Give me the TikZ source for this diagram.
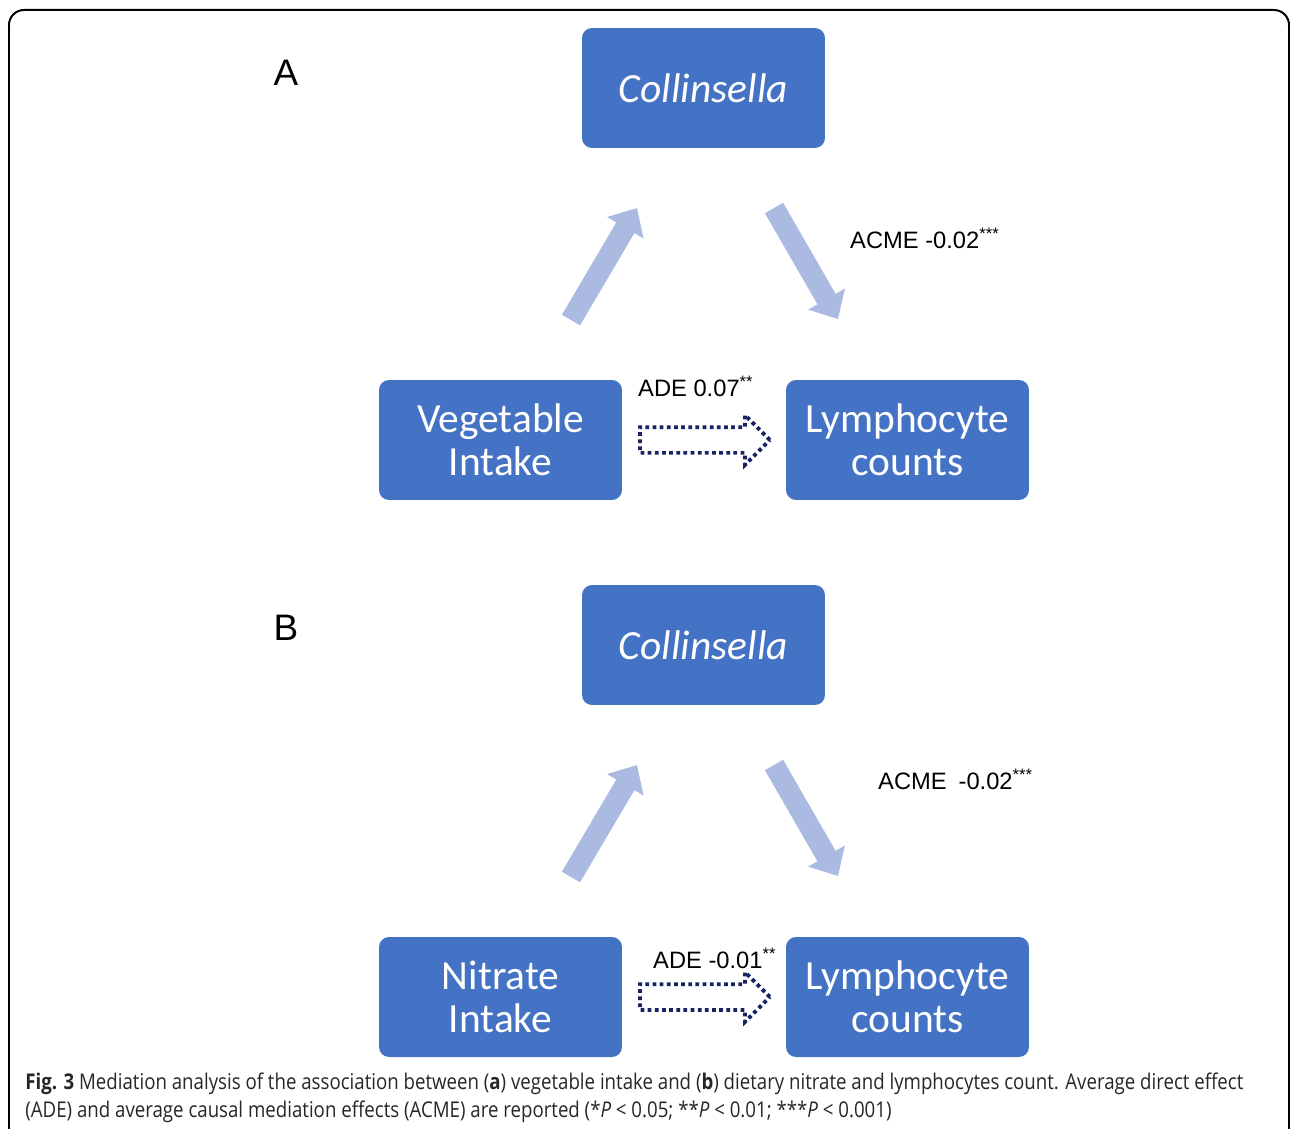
\documentclass[tikz,border=0pt]{standalone}
\usepackage{fontspec}
\setmainfont{Liberation Sans}
\newfontfamily\boxfont{Carlito}
\newfontfamily\capfont[FakeStretch=0.86]{Open Sans}
\usetikzlibrary{shapes.arrows,arrows.meta}
\definecolor{boxblue}{RGB}{68,114,196}
\definecolor{arrowblue}{RGB}{170,186,224}
\definecolor{adenavy}{RGB}{22,36,100}

\begin{document}
\begin{tikzpicture}[x=0.02cm,y=-0.02cm,
  varbox/.style={rectangle,rounded corners=0.2cm,fill=boxblue,text=white,minimum width=4.86cm,minimum height=2.4cm,align=center,font=\boxfont\fontsize{23.6}{24.6}\selectfont},
  fatarrow/.style={arrowblue,line width=0.42cm,-{Triangle[width=0.82cm,length=0.46cm]}},
  dotarrow/.style={single arrow,draw=adenavy,line width=0.075cm,dash pattern=on 0.075cm off 0.068cm,minimum height=2.6cm,inner ysep=0.22cm,inner xsep=0pt,single arrow head extend=0.24cm,anchor=tail},
  effect/.style={anchor=west,font=\fontsize{13.5}{16}\selectfont},
  panel/.style={font=\fontsize{21}{21}\selectfont}]
\useasboundingbox (0,0) rectangle (1290,1128);
% mediation diagram
\draw[line width=0.04cm,rounded corners=0.3cm] (9,10) rectangle (1289,1160);

% panel A
\node[panel] (labA) at (286,73) {A};
\node[varbox] (collA) at (703.5,88) {\textit{Collinsella}};
\node[varbox] (vegA) at (500.5,440) {Vegetable\\Intake};
\node[varbox] (lymA) at (907.5,440) {Lymphocyte\\counts};
\coordinate (upA0) at (571,320);
\coordinate (upA1) at (637,208);
\coordinate (dnA0) at (774,208);
\coordinate (dnA1) at (838,319);
\draw[fatarrow] (upA0) -- (upA1);
\draw[fatarrow] (dnA0) -- (dnA1);
\node[effect] (acmeA) at (844,238) {ACME -0.02\textsuperscript{***}};
\node[effect] (adeA) at (632,386) {ADE 0.07\textsuperscript{**}};
\node[dotarrow] (dirA) at (638,440) {};

% panel B
\node[panel] (labB) at (286,628) {B};
\node[varbox] (collB) at (703.5,645) {\textit{Collinsella}};
\node[varbox] (nitB) at (500.5,997) {Nitrate\\Intake};
\node[varbox] (lymB) at (907.5,997) {Lymphocyte\\counts};
\coordinate (upB0) at (571,877);
\coordinate (upB1) at (637,765);
\coordinate (dnB0) at (774,765);
\coordinate (dnB1) at (838,876);
\draw[fatarrow] (upB0) -- (upB1);
\draw[fatarrow] (dnB0) -- (dnB1);
\node[effect] (acmeB) at (872,779) {ACME\enspace -0.02\textsuperscript{***}};
\node[effect] (adeB) at (647,958) {ADE -0.01\textsuperscript{**}};
\node[dotarrow] (dirB) at (638,997) {};

% caption
\node[anchor=north west,align=left,inner sep=0pt,text=black!85,font=\capfont\fontsize{12.35}{15.4}\selectfont] (cap) at (25,1073)
  {\textbf{Fig. 3} Mediation analysis of the association between (\textbf{a}) vegetable intake and (\textbf{b}) dietary nitrate and lymphocytes count. Average direct effect\\
   (ADE) and average causal mediation effects (ACME) are reported (*\textit{P} < 0.05; **\textit{P} < 0.01; ***\textit{P} < 0.001)};
\end{tikzpicture}
\end{document}
